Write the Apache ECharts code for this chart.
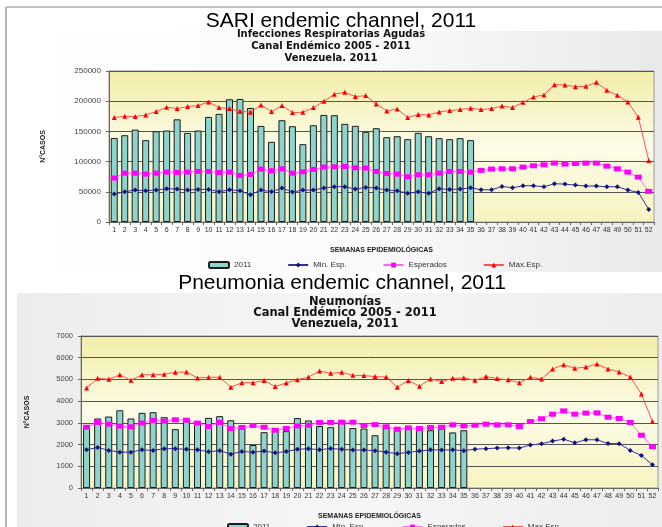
<!DOCTYPE html>
<html><head><meta charset="utf-8">
<script src="https://cdn.jsdelivr.net/npm/echarts@6/dist/echarts.min.js"></script>
<style>html,body{margin:0;padding:0;background:#fff}#c{width:662px;height:527px}</style>
</head><body><div id="c"></div>
<script>
var weeks = [];
for (var w = 1; w <= 52; w++) weeks.push(String(w));

// SARI (Infecciones Respiratorias Agudas)
var sariCases = [139000,143700,153000,135500,150300,151400,170000,147600,151400,174000,179000,203200,203700,188900,159100,132700,168500,158600,128900,160200,177300,176800,162500,159200,149300,155300,140400,142000,137100,147600,142000,138800,137100,138800,135500];
var sariMin = [46300,50100,52900,51800,52900,55100,54500,52900,54000,54000,50100,53400,51800,45200,52900,50100,56200,49600,52900,52900,56200,58400,58400,54500,57300,56200,52900,51800,47400,50100,47400,55100,54000,54500,56700,53400,53400,58900,56700,60000,60000,58400,63300,62800,61100,59500,59500,58400,58400,52900,49000,20900];
var sariExp = [72700,80900,80900,79300,80900,82600,82000,82600,83700,83700,82000,82600,77100,78700,87600,84800,88100,80900,83100,87000,90900,91400,92000,89800,89200,83700,80400,79300,74900,78200,78200,80900,83700,83700,82600,85400,87600,88100,88100,90900,93100,94700,97500,95800,96900,97500,97500,92500,88100,82600,74300,50700];
var sariMax = [172900,175100,174600,177300,182800,190000,187800,191100,192700,198800,189400,187800,183400,181700,193800,182800,192700,181200,181700,189400,199900,211500,214800,207600,209300,195500,183900,187200,172900,177900,177300,182300,184500,186100,188300,186100,187800,192200,189400,198200,207000,210400,227400,226900,224100,224700,231300,218100,209800,198800,173500,101900];

// Pneumonia (Neumonías)
var pneuCases = [2760,3200,3290,3580,3200,3460,3490,3260,2710,3140,2990,3230,3310,3120,2730,1980,2570,2680,2620,3220,3110,2850,2800,3120,2760,2740,2430,2830,2660,2740,2700,2660,2740,2560,2660];
var pneuMin = [1760,1870,1730,1650,1650,1760,1730,1810,1810,1780,1760,1670,1720,1560,1680,1650,1700,1620,1680,1780,1810,1760,1820,1780,1750,1750,1720,1650,1580,1640,1700,1760,1750,1760,1720,1790,1810,1840,1850,1840,1980,2040,2160,2250,2080,2220,2220,2050,2040,1730,1500,1070];
var pneuExp = [2800,3020,2940,2850,2820,2990,3110,3080,3140,3120,2990,2830,3020,2740,2790,2880,2800,2660,2740,2860,2890,3020,3020,3030,3030,2880,2920,2820,2710,2770,2740,2790,2800,2910,2860,2890,2940,2910,2910,2830,3060,3190,3400,3550,3400,3450,3460,3260,3200,3020,2430,1900];
var pneuMax = [4610,5050,5010,5210,4960,5220,5210,5240,5330,5340,5070,5100,5100,4640,4850,4850,4950,4670,4840,4990,5110,5390,5280,5330,5190,5180,5130,5110,4640,4950,4690,5020,4900,5050,5070,4960,5130,5040,4980,4850,5100,5020,5480,5680,5510,5570,5710,5480,5340,5110,4330,3060];

var legendNames = ['2011','Min. Esp.','Esperados','Max.Esp.'];

var FONT = 'Liberation Sans, Arial, sans-serif';
var BFONT = 'DejaVu Sans, Liberation Sans, sans-serif';
var chart = echarts.init(document.getElementById('c'), null, {renderer:'canvas'});

function plotBg(){
  return new echarts.graphic.LinearGradient(0,0,0,1,[
    {offset:0,color:'#f2eda8'},{offset:0.5,color:'#fdfce8'},{offset:1,color:'#f7f3c0'}]);
}
function xAxisDef(gi){
  return {type:'category', gridIndex:gi, data:weeks, boundaryGap:true,
    name:'SEMANAS EPIDEMIOLÓGICAS', nameLocation:'middle', nameGap:25,
    nameTextStyle:{fontSize:7,fontWeight:'bold',color:'#222',fontFamily:FONT},
    axisLine:{lineStyle:{color:'#666',width:1}},
    axisTick:{show:true,length:3,lineStyle:{color:'#666'}},
    axisLabel:{interval:0,fontSize:7,color:'#333',margin:5,fontFamily:FONT},
    splitLine:{show:false}};
}
function yAxisDef(gi,max,interval,gap,fs){
  return {type:'value', gridIndex:gi, min:0, max:max, interval:interval,
    name:'N°CASOS', nameLocation:'middle', nameRotate:90, nameGap:gap,
    nameTextStyle:{fontSize:7,fontWeight:'bold',color:'#222',fontFamily:FONT},
    axisLine:{show:true,lineStyle:{color:'#666'}},
    axisTick:{show:true,length:3,lineStyle:{color:'#666'}},
    axisLabel:{fontSize:fs,color:'#444',margin:8,fontFamily:FONT,formatter:function(v){return String(v);}},
    splitLine:{show:true,lineStyle:{color:'#555',width:1}}};
}
function seriesFor(gi, cases, mn, ex, mx){
  return [
    {name:'2011', type:'bar', xAxisIndex:gi, yAxisIndex:gi, data:cases, barWidth:7,
      itemStyle:{color:'#8dd4cf',borderColor:'#1c1c1c',borderWidth:1}, z:2},
    {name:'Min. Esp.', type:'line', xAxisIndex:gi, yAxisIndex:gi, data:mn,
      symbol:'diamond', symbolSize:5, lineStyle:{color:'#3030a0',width:1},
      itemStyle:{color:'#12127e'}, z:3},
    {name:'Esperados', type:'line', xAxisIndex:gi, yAxisIndex:gi, data:ex,
      symbol:'rect', symbolSize:[7,5], lineStyle:{color:'#ff66ff',width:1},
      itemStyle:{color:'#ff00ff'}, z:3},
    {name:'Max.Esp.', type:'line', xAxisIndex:gi, yAxisIndex:gi, data:mx,
      symbol:'triangle', symbolSize:5, lineStyle:{color:'#ff5050',width:1},
      itemStyle:{color:'#ff0000'}, z:3}
  ];
}

var option = {
  animation:false,
  backgroundColor:'#ffffff',
  textStyle:{fontFamily:FONT},
  grid:[
    {left:109, top:71, width:545, height:151, show:true, backgroundColor:plotBg(), borderColor:'#9a9a9a', borderWidth:1},
    {left:81, top:336, width:577, height:152, show:true, backgroundColor:plotBg(), borderColor:'#9a9a9a', borderWidth:1}
  ],
  xAxis:[xAxisDef(0), xAxisDef(1)],
  yAxis:[yAxisDef(0,250000,50000,62,8), yAxisDef(1,7000,1000,50,7.5)],
  legend:[
    {data:legendNames, left:203, top:256, itemGap:36, itemWidth:20, itemHeight:6,
      textStyle:{fontSize:8,color:'#333',fontFamily:FONT}},
    {data:legendNames, left:222, top:518, itemGap:36, itemWidth:20, itemHeight:6,
      textStyle:{fontSize:8,color:'#333',fontFamily:FONT}}
  ],
  graphic:[
    {type:'rect', z:-10, shape:{x:18,y:31,width:644,height:241},
      style:{fill:new echarts.graphic.LinearGradient(0,0,1,0,[{offset:0,color:'#ffffff'},{offset:0.55,color:'#fafafa'},{offset:1,color:'#e9e9e9'}])}},
    {type:'rect', z:-10, shape:{x:17,y:293,width:645,height:234},
      style:{fill:new echarts.graphic.LinearGradient(0,0,1,0,[{offset:0,color:'#ececec'},{offset:0.5,color:'#f6f6f6'},{offset:1,color:'#ededed'}])}},
    {type:'line', z:-5, shape:{x1:6,y1:7,x2:662,y2:7}, style:{stroke:'#c4c4c4',lineWidth:2}},
    {type:'line', z:-5, shape:{x1:6,y1:7,x2:6,y2:527}, style:{stroke:'#b5b5b5',lineWidth:2}},
    {type:'text', z:100, x:341, y:11, style:{text:'SARI endemic channel, 2011', font:'21px '+FONT, fill:'#000', textAlign:'center', textVerticalAlign:'top'}},
    {type:'text', z:100, x:331, y:28, style:{text:'Infecciones Respiratorias Agudas\nCanal Endémico 2005 - 2011\nVenezuela. 2011', font:'bold 10px '+BFONT, fill:'#111', textAlign:'center', textVerticalAlign:'top', lineHeight:12}},
    {type:'text', z:100, x:342, y:273, style:{text:'Pneumonia endemic channel, 2011', font:'21px '+FONT, fill:'#000', textAlign:'center', textVerticalAlign:'top'}},
    {type:'text', z:100, x:345, y:297, style:{text:'Neumonías\nCanal Endémico 2005 - 2011\nVenezuela, 2011', font:'bold 11.5px '+BFONT, fill:'#111', textAlign:'center', textVerticalAlign:'top', lineHeight:11}}
  ],
  series: seriesFor(0,sariCases,sariMin,sariExp,sariMax).concat(seriesFor(1,pneuCases,pneuMin,pneuExp,pneuMax))
};
chart.setOption(option);
</script></body></html>
